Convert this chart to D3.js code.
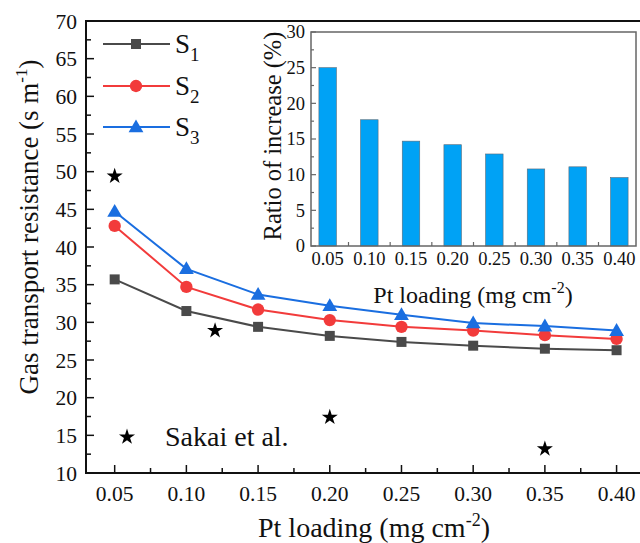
<!DOCTYPE html>
<html><head><meta charset="utf-8">
<script src="https://cdn.jsdelivr.net/npm/d3@7"></script>
<style>body{margin:0;background:#fff}svg{display:block}</style>
</head><body><svg id="c" width="640" height="543" font-family="'Liberation Serif', 'Times New Roman', serif"></svg>
<script>
const loadings = [0.05,0.10,0.15,0.20,0.25,0.30,0.35,0.40];
const s1 = [35.7,31.5,29.4,28.2,27.4,26.9,26.5,26.3];
const s2 = [42.8,34.7,31.7,30.3,29.4,28.9,28.3,27.8];
const s3 = [44.7,37.1,33.7,32.2,31.0,29.9,29.5,28.9];
const sakaiX = [0.05,0.12,0.20,0.35];
const sakaiY = [49.4,28.9,17.4,13.2];
const ratio = [25.0,17.7,14.7,14.2,12.9,10.8,11.1,9.6];
const xTickLabels = ["0.05","0.10","0.15","0.20","0.25","0.30","0.35","0.40"];
const yTicks = [10,15,20,25,30,35,40,45,50,55,60,65,70];
const insetYTicks = [0,5,10,15,20,25,30];
const seriesNames = ["1","2","3"];
const colors = ["#4a4a4a","#f23b3b","#1a6ee0"];

const svg = d3.select("#c");
const L=86, T=21, B=473;
const x = d3.scaleLinear().domain([0.03,0.42]).range([L, L+0.39/0.05*71.7]);
const y = d3.scaleLinear().domain([10,70]).range([B,T]);
const R = x(0.42);

const g = svg.append("g").attr("fill","#111");
g.append("rect").attr("x",L).attr("y",T).attr("width",R-L).attr("height",B-T).attr("fill","none").attr("stroke","#111").attr("stroke-width",2);

yTicks.forEach(v=>{
  g.append("line").attr("x1",L).attr("x2",L+8).attr("y1",y(v)).attr("y2",y(v)).attr("stroke","#111").attr("stroke-width",1.5);
  if(v<70) g.append("line").attr("x1",L).attr("x2",L+5).attr("y1",y(v+2.5)).attr("y2",y(v+2.5)).attr("stroke","#111").attr("stroke-width",1.5);
  g.append("text").attr("x",L-9).attr("y",y(v)).attr("dy","0.35em").attr("text-anchor","end").attr("font-size",21.5).text(v);
});
loadings.forEach((v,i)=>{
  g.append("line").attr("x1",x(v)).attr("x2",x(v)).attr("y1",B).attr("y2",B-8).attr("stroke","#111").attr("stroke-width",1.5);
  g.append("line").attr("x1",x(v+0.025)).attr("x2",x(v+0.025)).attr("y1",B).attr("y2",B-5).attr("stroke","#111").attr("stroke-width",1.5);
  g.append("text").attr("x",x(v)).attr("y",501).attr("text-anchor","middle").attr("font-size",21.5).text(xTickLabels[i]);
});
const xt = g.append("text").attr("x",374).attr("y",537).attr("text-anchor","middle").attr("font-size",28);
xt.append("tspan").text("Pt loading (mg cm");
xt.append("tspan").attr("dy",-11).attr("font-size",18).text("-2");
xt.append("tspan").attr("dy",11).text(")");
const yt = g.append("text").attr("transform","translate(38,227) rotate(-90)").attr("text-anchor","middle").attr("font-size",27);
yt.append("tspan").text("Gas transport resistance (s m");
yt.append("tspan").attr("dy",-11).attr("font-size",17).text("-1");
yt.append("tspan").attr("dy",11).text(")");

const series = [s1,s2,s3];
const symbols = [d3.symbolSquare, d3.symbolCircle, d3.symbolTriangle];
const sizes = [100,120,95];
const line = d3.line().x((d,i)=>x(loadings[i])).y(d=>y(d));
series.forEach((s,k)=>{
  g.append("path").datum(s).attr("d",line).attr("fill","none").attr("stroke",colors[k]).attr("stroke-width",2);
  s.forEach((v,i)=>{
    g.append("path").attr("d",d3.symbol(symbols[k],sizes[k])()).attr("transform",`translate(${x(loadings[i])},${y(v)+(k===2?1:0)})`).attr("fill",colors[k]);
  });
});
const star = d3.symbol(d3.symbolStar,80)();
sakaiX.forEach((v,i)=>{
  g.append("path").attr("d",star).attr("transform",`translate(${x(v)},${y(sakaiY[i])})`).attr("fill","#000");
});
g.append("path").attr("d",star).attr("transform","translate(127,437)").attr("fill","#000");
g.append("text").attr("x",165).attr("y",446).attr("font-size",28).text("Sakai et al.");

const legY = [44,86,127];
series.forEach((s,k)=>{
  g.append("line").attr("x1",103).attr("x2",170).attr("y1",legY[k]).attr("y2",legY[k]).attr("stroke",colors[k]).attr("stroke-width",2);
  g.append("path").attr("d",d3.symbol(symbols[k],sizes[k])()).attr("transform",`translate(136,${legY[k]+(k===2?1:0)})`).attr("fill",colors[k]);
  const t = g.append("text").attr("x",175).attr("y",legY[k]+9).attr("font-size",27);
  t.append("tspan").text("S");
  t.append("tspan").attr("dy",8).attr("font-size",19).text(seriesNames[k]);
});

const iL=311, iR=636, iT=32, iB=246;
const ix = d3.scaleBand().domain(xTickLabels).range([iL,iR]).paddingInner(0.58).paddingOuter(0.19);
const iy = d3.scaleLinear().domain([0,30]).range([iB,iT]);
const ig = svg.append("g").attr("fill","#111");
ig.selectAll("rect.bar").data(ratio).join("rect").attr("class","bar")
  .attr("x",(d,i)=>ix(xTickLabels[i])).attr("width",ix.bandwidth())
  .attr("y",d=>iy(d)).attr("height",d=>iB-iy(d))
  .attr("fill","#00a2f5").attr("stroke","#5a6a78").attr("stroke-width",0.6);
ig.append("rect").attr("x",iL).attr("y",iT).attr("width",iR-iL).attr("height",iB-iT).attr("fill","none").attr("stroke","#666").attr("stroke-width",1.5);
insetYTicks.forEach(v=>{
  ig.append("line").attr("x1",iL).attr("x2",iL+5).attr("y1",iy(v)).attr("y2",iy(v)).attr("stroke","#666").attr("stroke-width",1.2);
  if(v<30) ig.append("line").attr("x1",iL).attr("x2",iL+3).attr("y1",iy(v+2.5)).attr("y2",iy(v+2.5)).attr("stroke","#666").attr("stroke-width",1.2);
  ig.append("text").attr("x",iL-6).attr("y",iy(v)).attr("dy","0.35em").attr("text-anchor","end").attr("font-size",18.5).text(v);
});
xTickLabels.forEach((lab,i)=>{
  const cx = ix(lab)+ix.bandwidth()/2;
  if(i<7){ const mx = cx + ix.step()/2;
    ig.append("line").attr("x1",mx).attr("x2",mx).attr("y1",iB).attr("y2",iB-4).attr("stroke","#666").attr("stroke-width",1.2);}
  ig.append("text").attr("x",cx).attr("y",265).attr("text-anchor","middle").attr("font-size",18.5).text(lab);
});
const ixt = ig.append("text").attr("x",473).attr("y",303).attr("text-anchor","middle").attr("font-size",24);
ixt.append("tspan").text("Pt loading (mg cm");
ixt.append("tspan").attr("dy",-10).attr("font-size",16).text("-2");
ixt.append("tspan").attr("dy",10).text(")");
ig.append("text").attr("transform","translate(281,136) rotate(-90)").attr("text-anchor","middle").attr("font-size",24.5).text("Ratio of increase (%)");
</script></body></html>
